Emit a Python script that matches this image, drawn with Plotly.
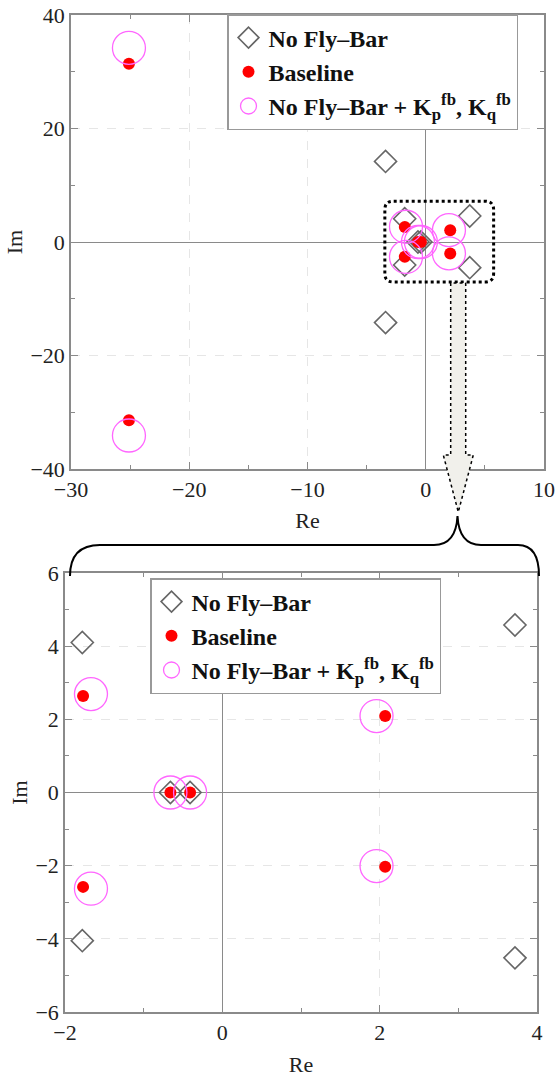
import plotly.graph_objects as go

# ---- data (poles) ----
nofb_re = [-3.4, -3.4, -1.78, -1.78, -0.66, -0.41, 3.72, 3.72]
nofb_im = [14.2, -14.2, 4.1, -4.05, 0.0, 0.0, 4.58, -4.52]
base_re = [-25.1, -25.1, -1.77, -1.77, -0.66, -0.41, 2.07, 2.07]
base_im = [31.4, -31.4, 2.64, -2.58, 0.0, 0.0, 2.09, -2.03]
kfb_re = [-25.1, -25.1, -1.67, -1.67, -0.66, -0.41, 1.96, 1.96]
kfb_im = [34.2, -34.1, 2.69, -2.63, 0.0, 0.0, 2.09, -2.01]

names = ["<b>No Fly–Bar</b>", "<b>Baseline</b>",
         "<b>No Fly–Bar + K<sub>p</sub><sup>fb</sup>, K<sub>q</sub><sup>fb</sup></b>"]

W, H = 560, 1082
SERIF = "Liberation Serif"

fig = go.Figure()

for xa, ya, leg in [("x", "y", "legend"), ("x2", "y2", "legend2")]:
    fig.add_trace(go.Scatter(x=nofb_re, y=nofb_im, mode="markers", name=names[0],
                             xaxis=xa, yaxis=ya, legend=leg, legendgroup="a" + xa,
                             marker=dict(symbol="diamond-open", size=17, color="#666666",
                                         line=dict(width=1.6, color="#666666"))))
    fig.add_trace(go.Scatter(x=base_re, y=base_im, mode="markers", name=names[1],
                             xaxis=xa, yaxis=ya, legend=leg, legendgroup="b" + xa,
                             marker=dict(symbol="circle", size=12, color="#ff0000")))
    fig.add_trace(go.Scatter(x=kfb_re, y=kfb_im, mode="markers", name=names[2],
                             xaxis=xa, yaxis=ya, legend=leg, legendgroup="c" + xa,
                             marker=dict(symbol="circle-open", size=33, color="#ff66ff",
                                         line=dict(width=1.3, color="#ff66ff"))))


def axis_style(rng, dtick, mdtick, domain, anchor, title, standoff):
    return dict(range=rng, dtick=dtick, domain=domain, anchor=anchor,
                showline=True, linecolor="#8a8a8a", linewidth=1.5, mirror="allticks",
                ticks="inside", ticklen=7, tickwidth=1.2, tickcolor="#8a8a8a",
                minor=dict(dtick=mdtick, ticks="inside", ticklen=4, tickcolor="#8a8a8a",
                           showgrid=False),
                showgrid=True, gridcolor="#e6e6e6", griddash="dash", gridwidth=1,
                zeroline=True, zerolinecolor="#8a8a8a", zerolinewidth=1.3,
                tickfont=dict(family=SERIF, size=22, color="#222222"),
                title=dict(text=title, font=dict(family=SERIF, size=22, color="#222222"),
                           standoff=standoff),
                automargin=False, fixedrange=True)


legend_common = dict(xanchor="left", yanchor="top",
                     bgcolor="white", bordercolor="#999999", borderwidth=1.5,
                     font=dict(family=SERIF, size=24, color="#111111"),
                     itemwidth=30, tracegroupgap=0, itemclick=False)

fig.update_layout(
    width=W, height=H, autosize=False,
    margin=dict(l=0, r=0, t=0, b=0),
    paper_bgcolor="white", plot_bgcolor="white",
    font=dict(family=SERIF),
    xaxis=axis_style([-30, 10], 10, 5, [71 / W, 544 / W], "y", "Re", 11),
    yaxis=axis_style([-40, 40], 20, 10, [1 - 469 / H, 1 - 15 / H], "x", "Im", 2),
    xaxis2=axis_style([-2, 4], 2, 1, [65 / W, 537 / W], "y2", "Re", 12),
    yaxis2=axis_style([-6, 6], 2, 1, [1 - 1012 / H, 1 - 573 / H], "x2", "Im", 2),
    legend=dict(x=227 / W, y=1 - 14 / H, **legend_common),
    legend2=dict(x=150 / W, y=1 - 578 / H, **legend_common),
)


def P(px, py):
    return f"{px / W:.5f},{1 - py / H:.5f}"


# dotted rounded rectangle around the near-origin poles (top panel, data coords)
x0, x1, y0, y1 = -3.46, 5.74, -7.05, 7.2
rx, ry = 0.75, 1.5
rect = (f"M {x0 + rx},{y1} L {x1 - rx},{y1} Q {x1},{y1} {x1},{y1 - ry} "
        f"L {x1},{y0 + ry} Q {x1},{y0} {x1 - rx},{y0} L {x0 + rx},{y0} "
        f"Q {x0},{y0} {x0},{y0 + ry} L {x0},{y1 - ry} Q {x0},{y1} {x0 + rx},{y1} Z")
fig.add_shape(type="path", path=rect, xref="x", yref="y", layer="above",
              line=dict(color="black", width=3, dash="dot"))

# zoom arrow (paper coords)
arrow = (f"M {P(450.7, 283)} L {P(450.7, 455)} L {P(443.3, 455)} L {P(458.3, 512)} "
         f"L {P(473.3, 455)} L {P(465.7, 455)} L {P(465.7, 283)} Z")
fig.add_shape(type="path", path=arrow, xref="paper", yref="paper", layer="above",
              fillcolor="#f1f0eb", line=dict(color="black", width=1.5, dash="dot"))

# brace
brace = (f"M {P(70, 576)} Q {P(70, 545)} {P(100, 545)} L {P(434, 545)} "
         f"Q {P(456, 545)} {P(457.5, 516)} Q {P(459, 545)} {P(481, 545)} "
         f"L {P(518, 545)} Q {P(539, 545)} {P(539, 576)}")
fig.add_shape(type="path", path=brace, xref="paper", yref="paper", layer="above",
              line=dict(color="black", width=2))

fig.write_html("out.html")
